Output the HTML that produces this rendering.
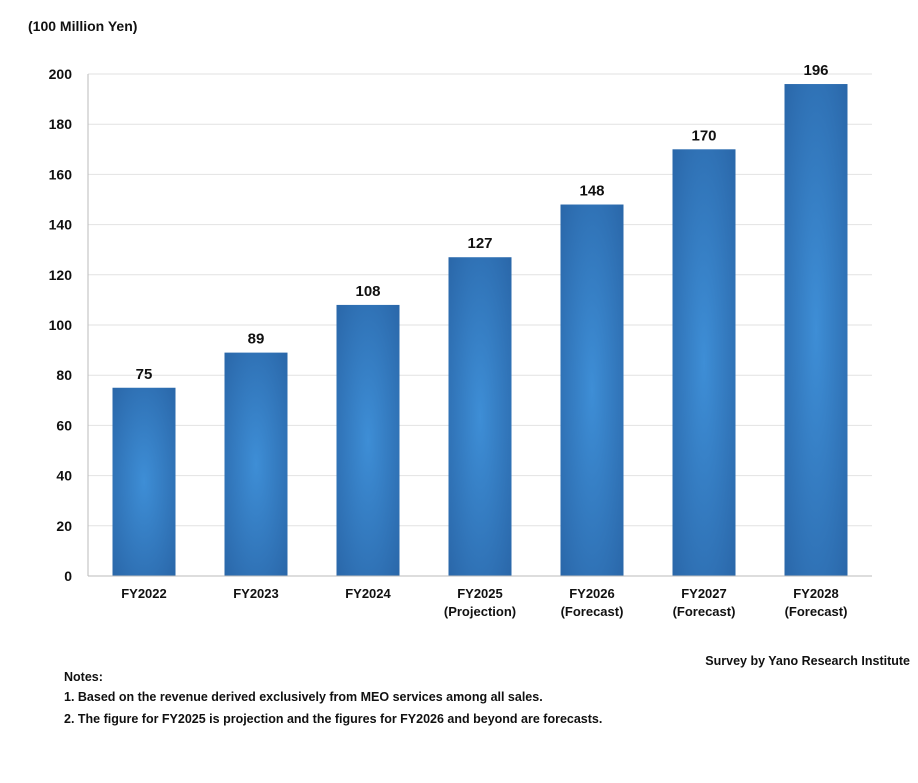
<!DOCTYPE html>
<html><head><meta charset="utf-8">
<style>
body{margin:0;background:#fff;font-family:"Liberation Sans",sans-serif;}
svg text{font-family:"Liberation Sans",sans-serif;font-weight:bold;fill:#111;}
</style></head>
<body>
<svg width="918" height="778" viewBox="0 0 918 778">
<defs>
<radialGradient id="bg" cx="50%" cy="50%" r="70%" fx="50%" fy="50%">
<stop offset="0%" stop-color="#3e8ed6"/>
<stop offset="100%" stop-color="#2a67a9"/>
</radialGradient>
</defs>
<text x="28" y="31" font-size="14">(100 Million Yen)</text>
<g id="grid"></g>
<g id="bars"></g>
<g id="labels"></g>
<line x1="88" y1="74" x2="88" y2="576" stroke="#bbb"/>
<line x1="88" y1="576" x2="872" y2="576" stroke="#bbb"/>
<text x="910" y="665" font-size="12.5" text-anchor="end">Survey by Yano Research Institute</text>
<text x="64" y="681" font-size="12.5">Notes:</text>
<text x="64" y="701" font-size="12.5">1.  Based on the revenue derived exclusively from MEO services among all sales.</text>
<text x="64" y="723" font-size="12.5">2.  The figure for FY2025 is projection and the figures for FY2026 and beyond are forecasts.</text>
</svg>
<script>
const categories=["FY2022","FY2023","FY2024","FY2025","FY2026","FY2027","FY2028"];
const subLabels=["","","","(Projection)","(Forecast)","(Forecast)","(Forecast)"];
const values=[75,89,108,127,148,170,196];
const yTicks=[0,20,40,60,80,100,120,140,160,180,200];
const NS="http://www.w3.org/2000/svg";
const x0=88,band=112,bw=63,yBase=576,yTop=74,yMax=200;
const y=v=>yBase-(v/yMax)*(yBase-yTop);
const xc=i=>x0+band*(i+0.5);
function mk(tag,attrs,parent){const e=document.createElementNS(NS,tag);for(const k in attrs)e.setAttribute(k,attrs[k]);document.getElementById(parent).appendChild(e);return e;}
yTicks.forEach(t=>{
 if(t>0){const l=mk('line',{x1:x0,x2:872,y1:y(t),y2:y(t),stroke:'#e2e2e2'},'grid');
 
 }
 const tx=mk('text',{x:72,y:y(t)+5,'font-size':14,'text-anchor':'end'},'labels');tx.textContent=t;
 
 
});
values.forEach((v,i)=>{
 const r=mk('rect',{x:xc(i)-bw/2,y:y(v),width:bw,height:yBase-y(v),fill:'url(#bg)'},'bars');
 
 
 const vl=mk('text',{x:xc(i),y:y(v)-9,'font-size':15,'text-anchor':'middle'},'labels');vl.textContent=v;
 
 
 const cl=mk('text',{x:xc(i),y:598,'font-size':13,'text-anchor':'middle'},'labels');cl.textContent=categories[i];
 
 
 if(subLabels[i]){const sl=mk('text',{x:xc(i),y:616,'font-size':13,'text-anchor':'middle'},'labels');sl.textContent=subLabels[i];
 
 }
});
</script>
</body></html>
